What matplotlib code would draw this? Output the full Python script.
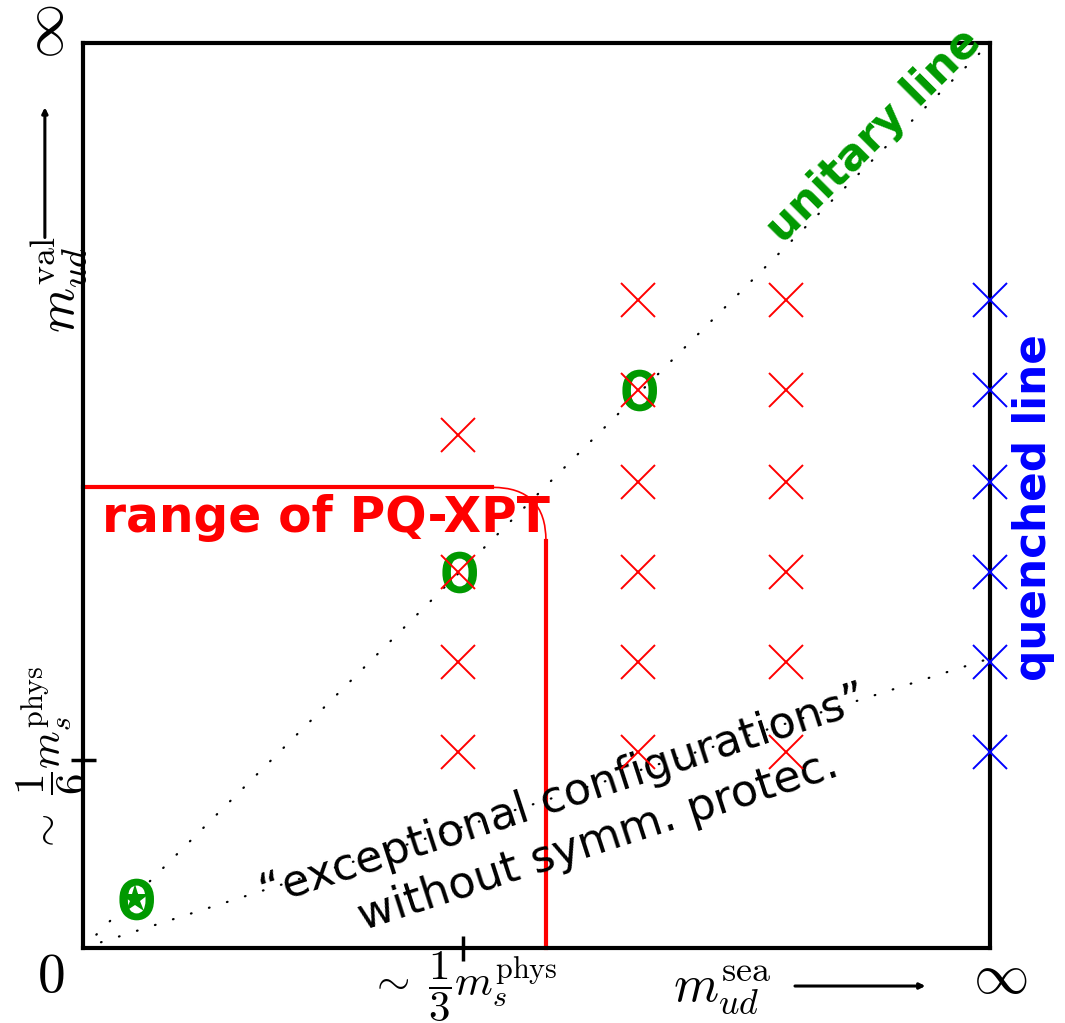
import matplotlib
matplotlib.use("Agg")
import matplotlib.pyplot as plt
from matplotlib.path import Path
import matplotlib.patches as mpatches
from matplotlib.textpath import TextPath
from matplotlib.font_manager import FontProperties

plt.rcParams['mathtext.fontset'] = 'cm'

# simulation points (fractions of the axis range)
red_x = [0.413, 0.413, 0.413, 0.413,
         0.612, 0.612, 0.612, 0.612, 0.612, 0.612,
         0.775, 0.775, 0.775, 0.775, 0.775, 0.775]
red_y = [0.567, 0.415, 0.316, 0.217,
         0.716, 0.617, 0.515, 0.415, 0.316, 0.217,
         0.716, 0.617, 0.515, 0.415, 0.316, 0.217]
blue_x = [1.0, 1.0, 1.0, 1.0, 1.0, 1.0]
blue_y = [0.716, 0.617, 0.515, 0.415, 0.316, 0.217]
unitary_x = [0.413, 0.612]
unitary_y = [0.415, 0.617]
phys_x = [0.057]
phys_y = [0.054]

# lines
unitary_line = ([0.0, 1.0], [0.0, 1.0])
exceptional_line = ([0.0, 1.0], [0.0, 0.32])
pq_y = 0.509
pq_x = 0.5105
pq_r = 0.059

x_tick = 0.419
y_tick = 0.208

green = '#009900'

# bold "O" glyph used as marker, centred on its own box
o_path = TextPath((0, 0), 'O', prop=FontProperties(family='Roboto', weight='bold'))
v = o_path.vertices.copy()
v -= (v.min(axis=0) + v.max(axis=0)) / 2
o_marker = Path(v, o_path.codes)

fig = plt.figure(figsize=(10.65, 10.23), dpi=100)
ax = fig.add_axes([0.0779, 0.0733, 0.8516, 0.8847])
ax.set_xlim(0, 1)
ax.set_ylim(0, 1)
for s in ax.spines.values():
    s.set_linewidth(3)

dots = dict(color='black', lw=1.6, linestyle=(0, (0.3, 8.2)), dash_capstyle='round')
ax.plot(*unitary_line, **dots)
ax.plot(*exceptional_line, **dots)

# range of PQ-XPT boundary
ax.plot([0, pq_x - pq_r], [pq_y, pq_y], color='red', lw=3, clip_on=False)
ax.plot([pq_x, pq_x], [pq_y - pq_r, 0], color='red', lw=3, clip_on=False)
corner = Path([(pq_x - pq_r, pq_y), (pq_x, pq_y), (pq_x, pq_y - pq_r)],
              [Path.MOVETO, Path.CURVE3, Path.CURVE3])
ax.add_patch(mpatches.PathPatch(corner, fc='none', ec='red', lw=1.2))

ax.plot(unitary_x + phys_x, unitary_y + phys_y, ls='none', marker=o_marker,
        ms=30, color=green, mew=0, zorder=3)
ax.plot(phys_x, phys_y, '*', color=green, ms=21, mew=0, zorder=4)

ax.plot(red_x, red_y, 'x', color='red', ms=24, mew=1.4, clip_on=False, zorder=4)
ax.plot(blue_x, blue_y, 'x', color='blue', ms=24, mew=1.4, clip_on=False, zorder=5)

ax.text(0.021, 0.4597, 'range of PQ-XPT', color='red', fontsize=35,
        fontweight='bold', ha='left', va='baseline')
ax.text(0.872, 0.898, 'unitary line', color=green, fontsize=31.5,
        fontweight='bold', ha='center', va='center', rotation=45)
ax.text(1.048, 0.487, 'quenched line', color='blue', fontsize=31.5,
        fontweight='bold', ha='center', va='center', rotation=90)
ax.text(0.530, 0.168, '\u201cexceptional configurations\u201d', fontsize=32,
        ha='center', va='center', rotation=18, rotation_mode='anchor')
ax.text(0.568, 0.118, 'without symm. protec.', fontsize=32,
        ha='center', va='center', rotation=18, rotation_mode='anchor')

# ticks
ax.set_xticks([x_tick])
ax.set_xticklabels([r'$\sim\;\dfrac{1}{3}m_s^{\mathrm{phys}}$'], fontsize=31)
ax.set_yticks([y_tick])
ax.set_yticklabels([r'$\sim\;\dfrac{1}{6}m_s^{\mathrm{phys}}$'], fontsize=31,
                   rotation=90, va='center')
ax.tick_params(direction='inout', length=18, width=2.5)
ax.tick_params(axis='x', pad=-8)
ax.tick_params(axis='y', pad=-13)

# axis labels and arrows
ax.text(-0.035, -0.032, '$0$', fontsize=40, ha='center', va='center', clip_on=False)
ax.text(1.011, -0.033, r'$\infty$', fontsize=40, ha='center', va='center')
ax.text(-0.039, 1.012, r'$\infty$', fontsize=40, ha='center', va='center', rotation=90)
ax.text(0.705, -0.046, r'$m_{ud}^{\mathrm{sea}}$', fontsize=37, ha='center', va='center')
ax.text(-0.026, 0.733, r'$m_{ud}^{\mathrm{val}}$', fontsize=37, ha='center', va='center',
        rotation=90)
ax.annotate('', xy=(0.932, -0.042), xytext=(0.782, -0.042),
            arrowprops=dict(arrowstyle='-|>', lw=2.2, color='black', mutation_scale=8),
            annotation_clip=False)
ax.annotate('', xy=(-0.042, 0.932), xytext=(-0.042, 0.782),
            arrowprops=dict(arrowstyle='-|>', lw=2.2, color='black', mutation_scale=8),
            annotation_clip=False)

fig.savefig('out.png', dpi=100)
